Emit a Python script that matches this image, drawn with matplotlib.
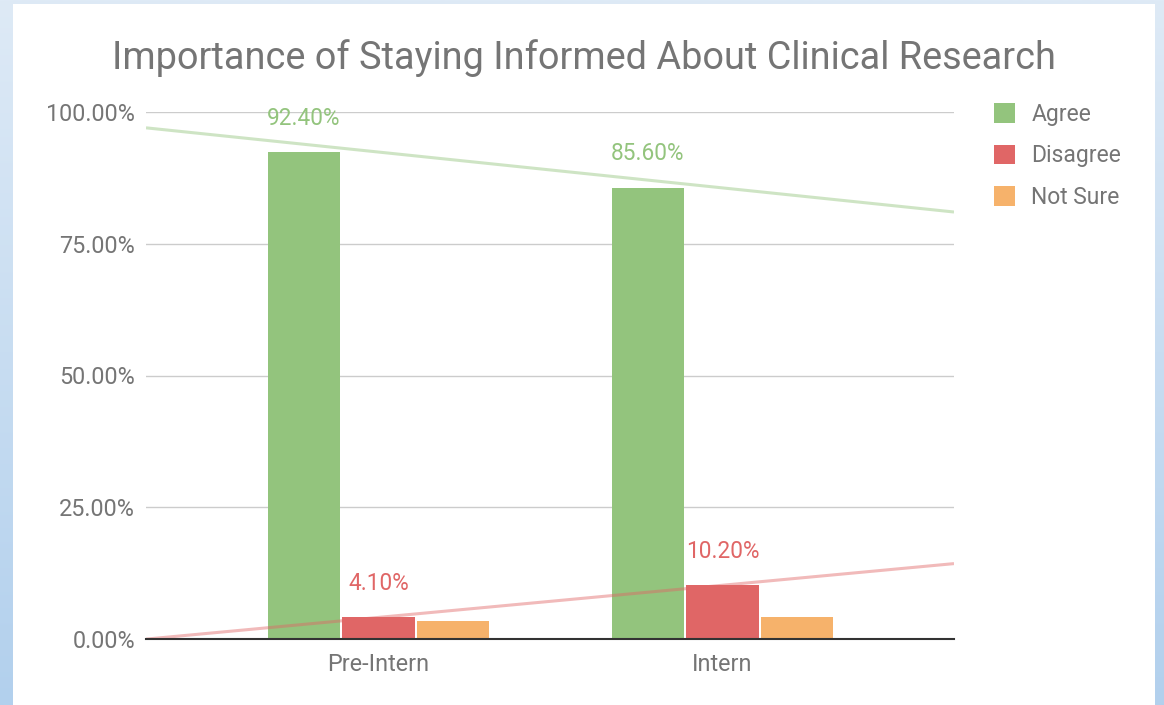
import numpy as np
import matplotlib
matplotlib.use("Agg")
import matplotlib.pyplot as plt
from matplotlib.patches import Rectangle, Patch

plt.rcParams['font.family'] = ['Roboto', 'DejaVu Sans']

categories = ["Pre-Intern", "Intern"]
series_names = ["Agree", "Disagree", "Not Sure"]
agree = [92.4, 85.6]
disagree = [4.1, 10.2]
not_sure = [3.5, 4.2]
y_ticks = [0, 25, 50, 75, 100]
y_tick_labels = ["0.00%", "25.00%", "50.00%", "75.00%", "100.00%"]
title = "Importance of Staying Informed About Clinical Research"

colors = ["#93c47d", "#e06666", "#f6b26b"]
text_gray = "#757575"

W, H = 1164, 705
fig = plt.figure(figsize=(W / 100, H / 100), dpi=100)

# background gradient frame
bg = fig.add_axes([0, 0, 1, 1], zorder=-10)
grad = np.linspace(0, 1, 256).reshape(-1, 1)
top = np.array([222, 234, 246]) / 255
bot = np.array([178, 208, 237]) / 255
img = top[None, None, :] * (1 - grad[:, :, None]) + bot[None, None, :] * grad[:, :, None]
bg.imshow(img, aspect='auto', extent=[0, 1, 0, 1], origin='upper')
bg.add_patch(Rectangle((13 / W, 0), (1155 - 13) / W, (H - 4) / H, facecolor='white', edgecolor='none'))
bg.set_xlim(0, 1)
bg.set_ylim(0, 1)
bg.axis('off')

ax = fig.add_axes([146 / W, (H - 639) / H, (954 - 146) / W, (639 - 112) / H])
ax.set_facecolor('none')

x = np.arange(len(categories))
width = 0.21
step = 0.2166
series = [agree, disagree, not_sure]
xlim = (-0.676, 1.673)
for i, (vals, name, c) in enumerate(zip(series, series_names, colors)):
    ax.bar(x + (i - 1) * step, vals, width, color=c, label=name, zorder=3)

# data labels for Agree and Disagree
for i, vals in enumerate([agree, disagree]):
    for xi, v in zip(x, vals):
        ax.annotate(f"{v:.2f}%", (xi + (i - 1) * step, v), xytext=(0, 34),
                    textcoords='offset pixels', ha='center', va='center',
                    color=colors[i], fontsize=16.3)

# trendlines
xx = np.array(xlim)
for i, vals in enumerate([agree, disagree]):
    p = np.polyfit(x, vals, 1)
    ax.plot(xx, np.polyval(p, xx), color=colors[i], alpha=0.45, lw=2.2, zorder=4,
            solid_capstyle='butt')

ax.set_xlim(*xlim)
ax.set_ylim(0, 100)
ax.set_yticks(y_ticks)
ax.set_yticklabels(y_tick_labels)
ax.set_xticks(x)
ax.set_xticklabels(categories)
ax.tick_params(axis='both', length=0, labelsize=16.8, labelcolor=text_gray)
ax.tick_params(axis='y', pad=8)
ax.tick_params(axis='x', pad=10)
for s in ['top', 'right', 'left']:
    ax.spines[s].set_visible(False)
ax.spines['bottom'].set_color('#333333')
ax.spines['bottom'].set_linewidth(1.5)
ax.spines['bottom'].set_zorder(5)
ax.grid(axis='y', color='#cccccc', lw=1, zorder=0)
ax.set_axisbelow(True)

handles = [Patch(facecolor=c, edgecolor='none') for c in colors]
leg = fig.legend(handles, series_names, loc='upper left',
                 bbox_to_anchor=(973 / W, 1 - 82 / H), frameon=False,
                 fontsize=16.5, handlelength=0.95, handleheight=0.95,
                 handletextpad=0.7, labelspacing=0.82)
for t in leg.get_texts():
    t.set_color(text_gray)

fig.text(584 / W, 1 - 58 / H, title, ha='center', va='center', fontsize=27.3, color=text_gray)

fig.savefig("out.png", dpi=100)
